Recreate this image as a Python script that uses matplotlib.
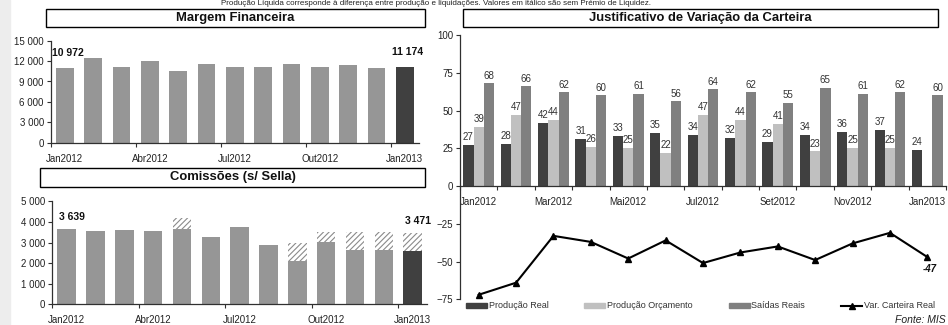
import matplotlib
matplotlib.use("Agg")
import matplotlib.pyplot as plt
import numpy as np
from matplotlib.patches import Rectangle, Patch
from matplotlib.lines import Line2D

plt.rcParams.update({
    'font.family': ['Liberation Sans', 'DejaVu Sans'],
    'font.size': 7,
    'hatch.linewidth': 0.8,
})

# ---- data ----
months = ['Jan2012', 'Fev2012', 'Mar2012', 'Abr2012', 'Mai2012', 'Jun2012', 'Jul2012',
          'Ago2012', 'Set2012', 'Out2012', 'Nov2012', 'Dez2012', 'Jan2013']
left_tick_labels = ['Jan2012', 'Abr2012', 'Jul2012', 'Out2012', 'Jan2013']
right_tick_labels = ['Jan2012', 'Mar2012', 'Mai2012', 'Jul2012', 'Set2012', 'Nov2012', 'Jan2013']

margem = [10972, 12500, 11130, 11960, 10590, 11570, 11130, 11130, 11620, 11130, 11420, 10980, 11174]
margem_labels = {0: '10 972', 12: '11 174'}

comissoes = [3639, 3550, 3600, 3550, 3650, 3260, 3760, 2900, 2100, 3030, 2660, 2660, 2600]
comissoes_premio = [0, 0, 0, 0, 550, 0, 0, 0, 870, 470, 840, 840, 871]
comissoes_labels = {0: '3 639', 12: '3 471'}

prod_real = [27, 28, 42, 31, 33, 35, 34, 32, 29, 34, 36, 37, 24]
prod_orc = [39, 47, 44, 26, 25, 22, 47, 44, 41, 23, 25, 25, np.nan]
saidas = [68, 66, 62, 60, 61, 56, 64, 62, 55, 65, 61, 62, 60]
var_carteira = [-72, -64, -33, -37, -48, -36, -51, -44, -40, -49, -38, -31, -47]

W, H = 948, 325
C_DARK = '#404040'
C_LIGHT = '#c0c0c0'
C_MID = '#808080'
C_LEFT = '#969696'
TXT = '#222222'


def px_rect(x0, y0, x1, y1):
    return [x0 / W, 1 - y1 / H, (x1 - x0) / W, (y1 - y0) / H]


def style_axes(ax):
    for s in ['top', 'right']:
        ax.spines[s].set_visible(False)
    for s in ['left', 'bottom']:
        ax.spines[s].set_color('#303030')
        ax.spines[s].set_linewidth(0.9)
    ax.tick_params(axis='both', which='major', length=3, width=0.8, color='#303030',
                   labelsize=7, labelcolor=TXT, pad=2)


def title_box(fig, x0, y0, x1, y1, text):
    fig.patches.append(Rectangle((x0 / W, 1 - y1 / H), (x1 - x0) / W, (y1 - y0) / H,
                                 transform=fig.transFigure, fill=False, edgecolor='black',
                                 linewidth=1.0))
    fig.text((x0 + x1) / 2 / W, 1 - (y0 + y1) / 2 / H, text, ha='center', va='center',
             fontsize=9.4, fontweight='bold', color='#111111')


fig = plt.figure(figsize=(W / 100, H / 100), dpi=100)
fig.patches.append(Rectangle((0, 0), 10 / W, 1, transform=fig.transFigure,
                             color='#ededed', zorder=-1))

# header note, partly cut off at the top as in the source
fig.text(436 / W, 1 - 5 / H,
         'Produção Líquida corresponde à diferença entre produção e liquidações. '
         'Valores em itálico são sem Prémio de Liquidez.',
         ha='center', va='baseline', fontsize=5.8, color=TXT)

title_box(fig, 45.7, 9, 425, 27, 'Margem Financeira')
title_box(fig, 40, 168.3, 425, 186.7, 'Comissões (s/ Sella)')
title_box(fig, 462.7, 9, 938, 27.3, 'Justificativo de Variação da Carteira')

x = np.arange(len(months))

# ---- Margem Financeira ----
ax1 = fig.add_axes(px_rect(50.7, 40.7, 419, 142.7))
cols = [C_LEFT] * (len(x) - 1) + [C_DARK]
ax1.bar(x, margem, width=0.62, color=cols)
ax1.set_xlim(-0.5, len(x) - 0.5)
ax1.set_ylim(0, 15000)
ax1.set_yticks([0, 3000, 6000, 9000, 12000, 15000])
ax1.set_yticklabels(['0', '3 000', '6 000', '9 000', '12 000', '15 000'])
for i, lab in margem_labels.items():
    ax1.annotate(lab, (x[i], margem[i]), xytext=(2, 7), textcoords='offset points',
                 ha='center', va='bottom', fontsize=7.5, fontweight='bold', color='#111111')
style_axes(ax1)
ax1.set_xticks(np.arange(-0.5, len(x), 3))
ax1.set_xticklabels([])
ax1.set_xticks(np.arange(0, len(x), 3), minor=True)
ax1.set_xticklabels(left_tick_labels, minor=True)
ax1.tick_params(axis='x', which='minor', length=0, labelsize=7, labelcolor=TXT, pad=8)

# ---- Comissões ----
ax2 = fig.add_axes(px_rect(52.3, 201.3, 427, 304.3))
cols = [C_LEFT] * (len(x) - 1) + [C_DARK]
ax2.bar(x, comissoes, width=0.64, color=cols)
ax2.bar(x, comissoes_premio, bottom=comissoes, width=0.64, facecolor='white',
        edgecolor='#8a8a8a', hatch='//////', linewidth=0)
ax2.set_xlim(-0.5, len(x) - 0.5)
ax2.set_ylim(0, 5000)
ax2.set_yticks([0, 1000, 2000, 3000, 4000, 5000])
ax2.set_yticklabels(['0', '1 000', '2 000', '3 000', '4 000', '5 000'])
for i, lab in comissoes_labels.items():
    top = comissoes[i] + comissoes_premio[i]
    ax2.annotate(lab, (x[i], top), xytext=(4, 5), textcoords='offset points',
                 ha='center', va='bottom', fontsize=7.5, fontweight='bold', color='#111111')
style_axes(ax2)
ax2.set_xticks(np.arange(-0.5, len(x), 3))
ax2.set_xticklabels([])
ax2.set_xticks(np.arange(0, len(x), 3), minor=True)
ax2.set_xticklabels(left_tick_labels, minor=True)
ax2.tick_params(axis='x', which='minor', length=0, labelsize=7, labelcolor=TXT, pad=8)

# ---- Justificativo de Variação da Carteira ----
ax3 = fig.add_axes(px_rect(460, 35, 946, 299.3))
bw = 0.275
ax3.bar(x - bw, prod_real, width=bw, color=C_DARK)
ax3.bar(x, prod_orc, width=bw, color=C_LIGHT)
ax3.bar(x + bw, saidas, width=bw, color=C_MID)
ax3.plot(x, var_carteira, color='black', lw=1.5, marker='^', markersize=4)
for off, vals in [(-bw, prod_real), (0, prod_orc), (bw, saidas)]:
    for xi, v in zip(x, vals):
        if np.isnan(v):
            continue
        ax3.annotate(f'{v:.0f}', (xi + off, v), xytext=(0, 2), textcoords='offset points',
                     ha='center', va='bottom', fontsize=7, color='#333333')
ax3.annotate(f'{var_carteira[-1]}', (x[-1], var_carteira[-1]), xytext=(2, -5),
             textcoords='offset points', ha='center', va='top', fontsize=7,
             fontweight='bold', fontstyle='italic', color='#111111')
ax3.set_xlim(-0.5, len(x) - 0.5)
ax3.set_ylim(-75, 100)
ax3.set_yticks([-75, -50, -25, 0, 25, 50, 75, 100])
style_axes(ax3)
ax3.spines['bottom'].set_position(('data', 0))
ax3.set_xticks(np.arange(-0.5, len(x), 1))
ax3.set_xticklabels([])
ax3.set_xticks(np.arange(0, len(x), 2), minor=True)
ax3.set_xticklabels(right_tick_labels, minor=True)
ax3.tick_params(axis='x', which='minor', length=0, labelsize=7, labelcolor=TXT, pad=8)

handles = [Patch(color=C_DARK), Patch(color=C_LIGHT), Patch(color=C_MID),
           Line2D([], [], color='black', lw=1.5, marker='^', markersize=4)]
fig.legend(handles, ['Produção Real', 'Produção Orçamento', 'Saídas Reais', 'Var. Carteira Real'],
           ncol=4, loc='center left', bbox_to_anchor=(466 / W, 1 - 306 / H), frameon=False,
           fontsize=6.5, handlelength=2.3, handleheight=0.45, handletextpad=0.2,
           columnspacing=4.0, labelcolor='#333333', borderpad=0, borderaxespad=0)

fig.text(946 / W, 1 - 320 / H, 'Fonte: MIS', ha='right', va='center', fontsize=7.5,
         fontstyle='italic', color='#222222')

fig.savefig('out.png', dpi=100)
